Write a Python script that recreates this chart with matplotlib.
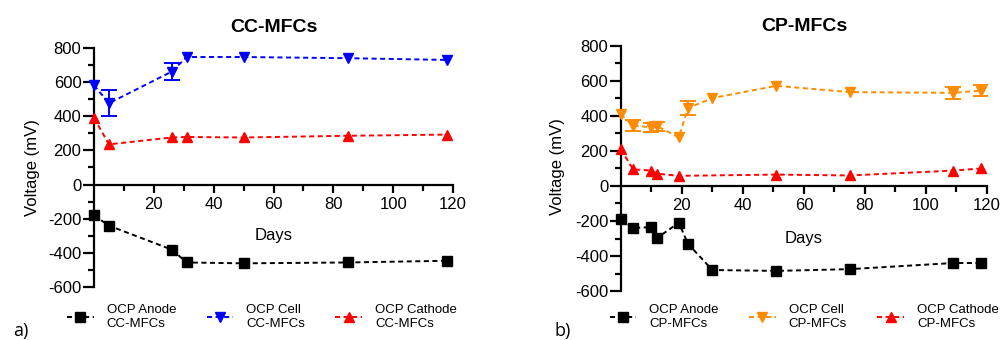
import numpy as np
import matplotlib
matplotlib.use("Agg")
import matplotlib.pyplot as plt
from matplotlib.ticker import MultipleLocator, FixedLocator

plt.rcParams['font.family'] = ['Liberation Sans', 'DejaVu Sans']
plt.rcParams['axes.unicode_minus'] = False

# ---- CC-MFCs data ----
cc_days = [0, 5, 26, 31, 50, 85, 118]
cc_anode = [-180, -240, -380, -455, -460, -455, -445]
cc_cell = [580, 475, 660, 745, 745, 738, 728]
cc_cell_err = [0, 75, 50, 0, 0, 0, 0]
cc_cathode = [390, 235, 275, 278, 275, 285, 292]

# ---- CP-MFCs data ----
cp_days = [0, 4, 10, 12, 19, 22, 30, 51, 75, 109, 118]
cp_anode = [-190, -240, -235, -295, -210, -330, -480, -485, -475, -440, -440]
cp_cell = [410, 345, 335, 340, 278, 445, 502, 572, 536, 532, 545]
cp_cell_err = [0, 30, 25, 25, 0, 40, 0, 0, 0, 35, 30]
cp_cath_days = [0, 4, 10, 12, 19, 51, 75, 109, 118]
cp_cathode = [210, 95, 88, 70, 58, 65, 60, 88, 100]

titles = ["CC-MFCs", "CP-MFCs"]
panel_labels = ["a)", "b)"]
x_ticks = [20, 40, 60, 80, 100, 120]

fig = plt.figure(figsize=(10.03, 3.4), dpi=100)
ax1 = fig.add_axes([0.0937, 0.155, 0.358, 0.705])
ax2 = fig.add_axes([0.619, 0.144, 0.365, 0.721])

dash = (0, (2.6, 1.8))
lw = 1.4
ms_sq = 7.5
ms_tri = 7.5


def draw(ax, days_a, anode, days_c, cell, cell_err, days_k, cathode, cell_color, tag):
    l1, = ax.plot(days_a, anode, color='black', ls=dash, lw=lw, marker='s',
                  ms=ms_sq, clip_on=False, zorder=3, label=f"OCP Anode\n{tag}")
    l2, = ax.plot(days_c, cell, color=cell_color, ls=dash, lw=lw, marker='v',
                  ms=ms_tri, clip_on=False, zorder=3, label=f"OCP Cell\n{tag}")
    e = np.array(cell_err, dtype=float)
    idx = e > 0
    ax.errorbar(np.array(days_c)[idx], np.array(cell)[idx], yerr=e[idx], fmt='none',
                ecolor=cell_color, elinewidth=1.4, capsize=5.5, capthick=1.4, zorder=2)
    l3, = ax.plot(days_k, cathode, color='#ff0000', ls=dash, lw=lw, marker='^',
                  ms=ms_tri, clip_on=False, zorder=3, label=f"OCP Cathode\n{tag}")
    return [l1, l2, l3]


h1 = draw(ax1, cc_days, cc_anode, cc_days, cc_cell, cc_cell_err, cc_days, cc_cathode,
          '#0000ff', 'CC-MFCs')
h2 = draw(ax2, cp_days, cp_anode, cp_days, cp_cell, cp_cell_err, cp_cath_days, cp_cathode,
          '#ff8c00', 'CP-MFCs')

for ax, title in zip([ax1, ax2], titles):
    ax.set_xlim(0, 120)
    ax.set_ylim(-600, 800)
    for s in ['top', 'right']:
        ax.spines[s].set_visible(False)
    ax.spines['bottom'].set_position(('data', 0))
    ax.spines['left'].set_position(('data', 0))
    ax.spines['bottom'].set_linewidth(1.6)
    ax.spines['left'].set_linewidth(1.6)
    ax.xaxis.set_major_locator(FixedLocator(x_ticks))
    ax.xaxis.set_minor_locator(FixedLocator([10, 30, 50, 70, 90, 110]))
    ax.yaxis.set_major_locator(MultipleLocator(200))
    ax.yaxis.set_minor_locator(MultipleLocator(100))
    ax.tick_params(axis='y', which='major', length=8, width=1.6, labelsize=12, pad=1)
    ax.tick_params(axis='y', which='minor', length=4, width=1.6)
    ax.tick_params(axis='x', which='major', length=6, width=1.6, labelsize=12, pad=3)
    ax.tick_params(axis='x', which='minor', length=4, width=1.6)
    ax.set_title(title, fontsize=14, fontweight='bold', pad=11)
    ax.set_xlabel('Days', fontsize=12)
    ax.set_ylabel('Voltage (mV)', fontsize=12)
    ax.patch.set_alpha(0)

ax1.xaxis.set_label_coords(0.5, 0.247)
ax2.xaxis.set_label_coords(0.5, 0.245)
ax1.yaxis.set_label_coords(-0.150, 0.5)
ax2.yaxis.set_label_coords(-0.153, 0.506)

leg_kw = dict(ncol=3, frameon=False, fontsize=9.5, handlelength=2.0, handletextpad=1.0,
              columnspacing=2.3, borderpad=0, borderaxespad=0, loc='center left',
              labelspacing=0.4)
fig.legend(handles=h1, bbox_to_anchor=(0.067, 0.068), **leg_kw)
fig.legend(handles=h2, bbox_to_anchor=(0.608, 0.068), **leg_kw)

fig.text(0.013, 0.012, panel_labels[0], fontsize=13, family=['Open Sans', 'DejaVu Sans'])
fig.text(0.553, 0.012, panel_labels[1], fontsize=13, family=['Open Sans', 'DejaVu Sans'])

fig.savefig('out.png', dpi=100)
